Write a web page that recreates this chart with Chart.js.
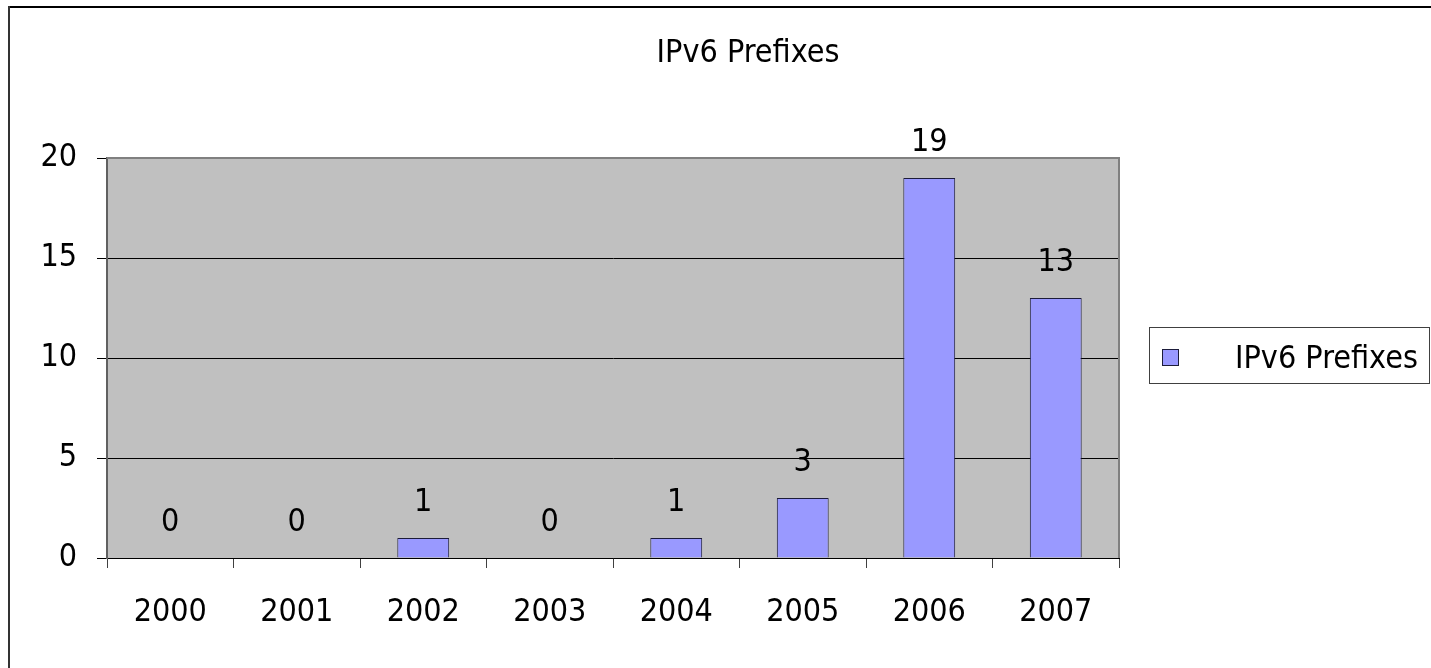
<!DOCTYPE html>
<html>
<head>
<meta charset="utf-8">
<title>IPv6 Prefixes</title>
<script src="https://cdn.jsdelivr.net/npm/chart.js@4.4.0/dist/chart.umd.min.js"></script>
<style>
  html, body { margin: 0; padding: 0; background: #fff; }
  #wrap { width: 1431px; height: 668px; }
</style>
</head>
<body>
<div id="wrap"><canvas id="barChart" width="1431" height="668"></canvas></div>
<script>
// data
const years = ['2000', '2001', '2002', '2003', '2004', '2005', '2006', '2007'];
const prefixes = [0, 0, 1, 0, 1, 3, 19, 13];
const yTicks = [0, 5, 10, 15, 20];
const chartTitle = 'IPv6 Prefixes';
const seriesName = 'IPv6 Prefixes';

const FONT = "'DejaVu Sans Condensed', 'Liberation Sans', sans-serif";
const barColor = '#9999FF';
const barBorder = '#1c1c3a';

// gray plot area + frame
const plotArea = {
    id: 'plotArea',
    beforeDraw(chart) {
        const { ctx, chartArea: a } = chart;
        ctx.save();
        ctx.fillStyle = '#C0C0C0';
        ctx.fillRect(a.left, a.top, a.right - a.left, a.bottom - a.top);
        ctx.restore();
    },
    beforeDatasetsDraw(chart) {
        const { ctx, chartArea: a } = chart;
        ctx.save();
        ctx.strokeStyle = '#808080';
        ctx.lineWidth = 2;
        ctx.beginPath();
        ctx.moveTo(a.left, a.top);
        ctx.lineTo(a.right, a.top);
        ctx.lineTo(a.right, a.bottom);
        ctx.stroke();
        ctx.restore();
    }
};

// value labels above bars
const valueLabels = {
    id: 'valueLabels',
    afterDatasetsDraw(chart) {
        const { ctx } = chart;
        const meta = chart.getDatasetMeta(0);
        ctx.save();
        ctx.font = '32px ' + FONT;
        ctx.fillStyle = '#000';
        ctx.textAlign = 'center';
        ctx.textBaseline = 'alphabetic';
        meta.data.forEach((bar, i) => {
            ctx.fillText(String(prefixes[i]), bar.x, bar.y - 27);
        });
        ctx.restore();
    }
};

// title, legend, outer frame
const extras = {
    id: 'extras',
    afterDraw(chart) {
        const { ctx } = chart;
        ctx.save();

        ctx.font = '32px ' + FONT;
        ctx.fillStyle = '#000';
        ctx.textAlign = 'center';
        ctx.textBaseline = 'alphabetic';
        ctx.fillText(chartTitle, 748, 62);

        // legend
        const ds = chart.data.datasets[0];
        ctx.fillStyle = '#fff';
        ctx.fillRect(1149, 327, 280, 56);
        ctx.strokeStyle = '#404040';
        ctx.lineWidth = 1;
        ctx.strokeRect(1149.5, 327.5, 280, 56);
        ctx.fillStyle = ds.backgroundColor;
        ctx.fillRect(1162, 349, 17, 17);
        ctx.strokeStyle = ds.borderColor;
        ctx.strokeRect(1162.5, 349.5, 16, 16);
        ctx.fillStyle = '#000';
        ctx.textAlign = 'left';
        ctx.fillText(ds.label, 1235, 368);

        // outer frame (top + left only)
        ctx.fillStyle = '#000';
        ctx.fillRect(8, 6, 1431, 2);
        ctx.fillStyle = '#333';
        ctx.fillRect(8, 6, 2, 668);
        ctx.restore();
    }
};

const ctx = document.getElementById('barChart');

new Chart(ctx, {
    type: 'bar',
    data: {
        labels: years,
        datasets: [{
            label: seriesName,
            data: prefixes,
            backgroundColor: barColor,
            borderColor: barBorder,
            borderWidth: 1,
            barPercentage: 0.82,
            categoryPercentage: 0.5
        }]
    },
    options: {
        responsive: false,
        devicePixelRatio: 1,
        animation: false,
        layout: {
            padding: { top: 158, right: 312, bottom: 0, left: 0 }
        },
        plugins: {
            legend: { display: false },
            title: { display: false },
            tooltip: { enabled: false }
        },
        scales: {
            x: {
                offset: true,
                afterFit: (scale) => { scale.height = 110; },
                grid: {
                    offset: true,
                    drawOnChartArea: false,
                    drawTicks: true,
                    tickLength: 10,
                    color: '#404040'
                },
                border: { display: true, color: '#000', width: 1 },
                ticks: {
                    color: '#000',
                    padding: 25,
                    maxRotation: 0,
                    font: { family: FONT, size: 32 }
                }
            },
            y: {
                min: 0,
                max: 20,
                afterFit: (scale) => { scale.width = 107; },
                afterBuildTicks: (scale) => {
                    scale.ticks = yTicks.map(v => ({ value: v }));
                },
                grid: {
                    color: '#000',
                    lineWidth: 1,
                    tickLength: 10
                },
                border: { display: true, color: '#606060', width: 2 },
                ticks: {
                    color: '#000',
                    padding: 20,
                    font: { family: FONT, size: 32 }
                }
            }
        }
    },
    plugins: [plotArea, valueLabels, extras]
});
</script>
</body>
</html>
